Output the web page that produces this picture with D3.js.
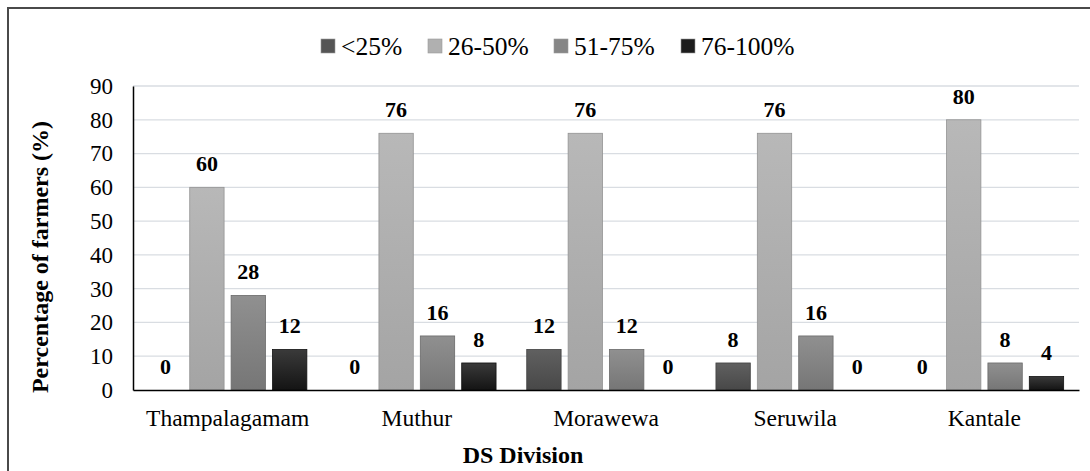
<!DOCTYPE html>
<html><head><meta charset="utf-8">
<script src="https://cdn.jsdelivr.net/npm/d3@7"></script>
<style>body{margin:0;background:#fff}svg{display:block}
svg text{font-family:"Liberation Serif","Times New Roman","DejaVu Serif",serif;}</style>
</head><body>
<svg id="c" width="1090" height="471"></svg>
<script>
const categories = ["Thampalagamam","Muthur","Morawewa","Seruwila","Kantale"];
const seriesNames = ["<25%","26-50%","51-75%","76-100%"];
const lt25 = [0,0,12,8,0];
const s26to50 = [60,76,76,76,80];
const s51to75 = [28,16,12,16,8];
const s76to100 = [12,8,0,0,4];
const yTicks = [0,10,20,30,40,50,60,70,80,90];
const seriesValues = [lt25, s26to50, s51to75, s76to100];

const colorsTop = ["#606060","#b8b8b8","#909090","#3a3a3a"];
const colorsBot = ["#484848","#a4a4a4","#767676","#141414"];
const swatch = ["#555555","#b0b0b0","#868686","#1c1c1c"];

const svg = d3.select("#c");
const pLeft = 133, pRight = 1079, pTop = 86, pBottom = 390;

// frame
svg.append("path").attr("d","M8,480 L8,8 L1100,8").attr("fill","none").attr("stroke","#4a4a4a").attr("stroke-width",2);

const defs = svg.append("defs");
seriesNames.forEach((s,i)=>{
  const g = defs.append("linearGradient").attr("id","g"+i).attr("x1",0).attr("y1",0).attr("x2",0).attr("y2",1);
  g.append("stop").attr("offset","0%").attr("stop-color",colorsTop[i]);
  g.append("stop").attr("offset","100%").attr("stop-color",colorsBot[i]);
});

const y = d3.scaleLinear().domain([0,90]).range([pBottom,pTop]);
const x0 = d3.scaleBand().domain(categories).range([pLeft,pRight]).paddingInner(0.125).paddingOuter(0.0625);
const x1 = d3.scaleBand().domain(d3.range(4)).range([0,x0.bandwidth()]).paddingInner(0.17).paddingOuter(0.085);

// gridlines
svg.append("g").selectAll("line").data(yTicks.filter(t=>t>0)).join("line")
  .attr("x1",pLeft).attr("x2",pRight).attr("y1",d=>y(d)).attr("y2",d=>y(d))
  .attr("stroke","#d9dde2").attr("stroke-width",1.3);

// y axis
const ya = svg.append("g").attr("transform",`translate(${pLeft},0)`)
  .call(d3.axisLeft(y).tickValues(yTicks).tickSize(0).tickPadding(20));
ya.select(".domain").attr("stroke","#000").attr("stroke-width",1.5);
ya.selectAll("text").attr("font-family",null).attr("font-size",23).attr("fill","#000");

// bars
const groups = svg.append("g").selectAll("g").data(categories).join("g")
  .attr("transform",d=>`translate(${x0(d)},0)`);
groups.selectAll("rect").data((d,ci)=>seriesValues.map((arr,si)=>({si,v:arr[ci]}))).join("rect")
  .attr("x",d=>x1(d.si)).attr("width",x1.bandwidth())
  .attr("y",d=>y(d.v)).attr("height",d=>y(0)-y(d.v))
  .attr("fill",d=>`url(#g${d.si})`)
  .attr("stroke",d=>d.v>0?d3.color(colorsBot[d.si]).darker(0.3):"none").attr("stroke-width",0.8);
groups.selectAll("text").data((d,ci)=>seriesValues.map((arr,si)=>({si,v:arr[ci]}))).join("text")
  .attr("x",d=>x1(d.si)+x1.bandwidth()/2).attr("y",d=>y(d.v)-16)
  .attr("text-anchor","middle").attr("font-weight","bold")
  .attr("font-size",22).attr("fill","#000").text(d=>d.v);

// x axis
const xa = svg.append("g").attr("transform",`translate(0,${pBottom})`)
  .call(d3.axisBottom(x0).tickSize(0).tickPadding(19));
xa.select(".domain").attr("stroke","#000").attr("stroke-width",1.5);
xa.selectAll("text").attr("font-family",null).attr("font-size",23.5).attr("fill","#000");

// axis titles
svg.append("text").attr("x",523).attr("y",463).attr("text-anchor","middle")
  .attr("font-weight","bold").attr("font-size",24).text("DS Division");
svg.append("text").attr("transform","translate(48,257) rotate(-90)").attr("text-anchor","middle")
  .attr("font-weight","bold").attr("font-size",24).text("Percentage of farmers (%)");

// legend
const legX = [321,428,554,681];
const leg = svg.append("g").selectAll("g").data(seriesNames).join("g")
  .attr("transform",(d,i)=>`translate(${legX[i]},46)`);
leg.append("rect").attr("x",0).attr("y",-7).attr("width",14).attr("height",14)
  .attr("fill",(d,i)=>swatch[i]).attr("stroke","#999").attr("stroke-width",0.6);
leg.append("text").attr("x",20).attr("y",9).attr("font-size",25.5)
  .attr("fill","#000").text(d=>d);
</script>
</body></html>
